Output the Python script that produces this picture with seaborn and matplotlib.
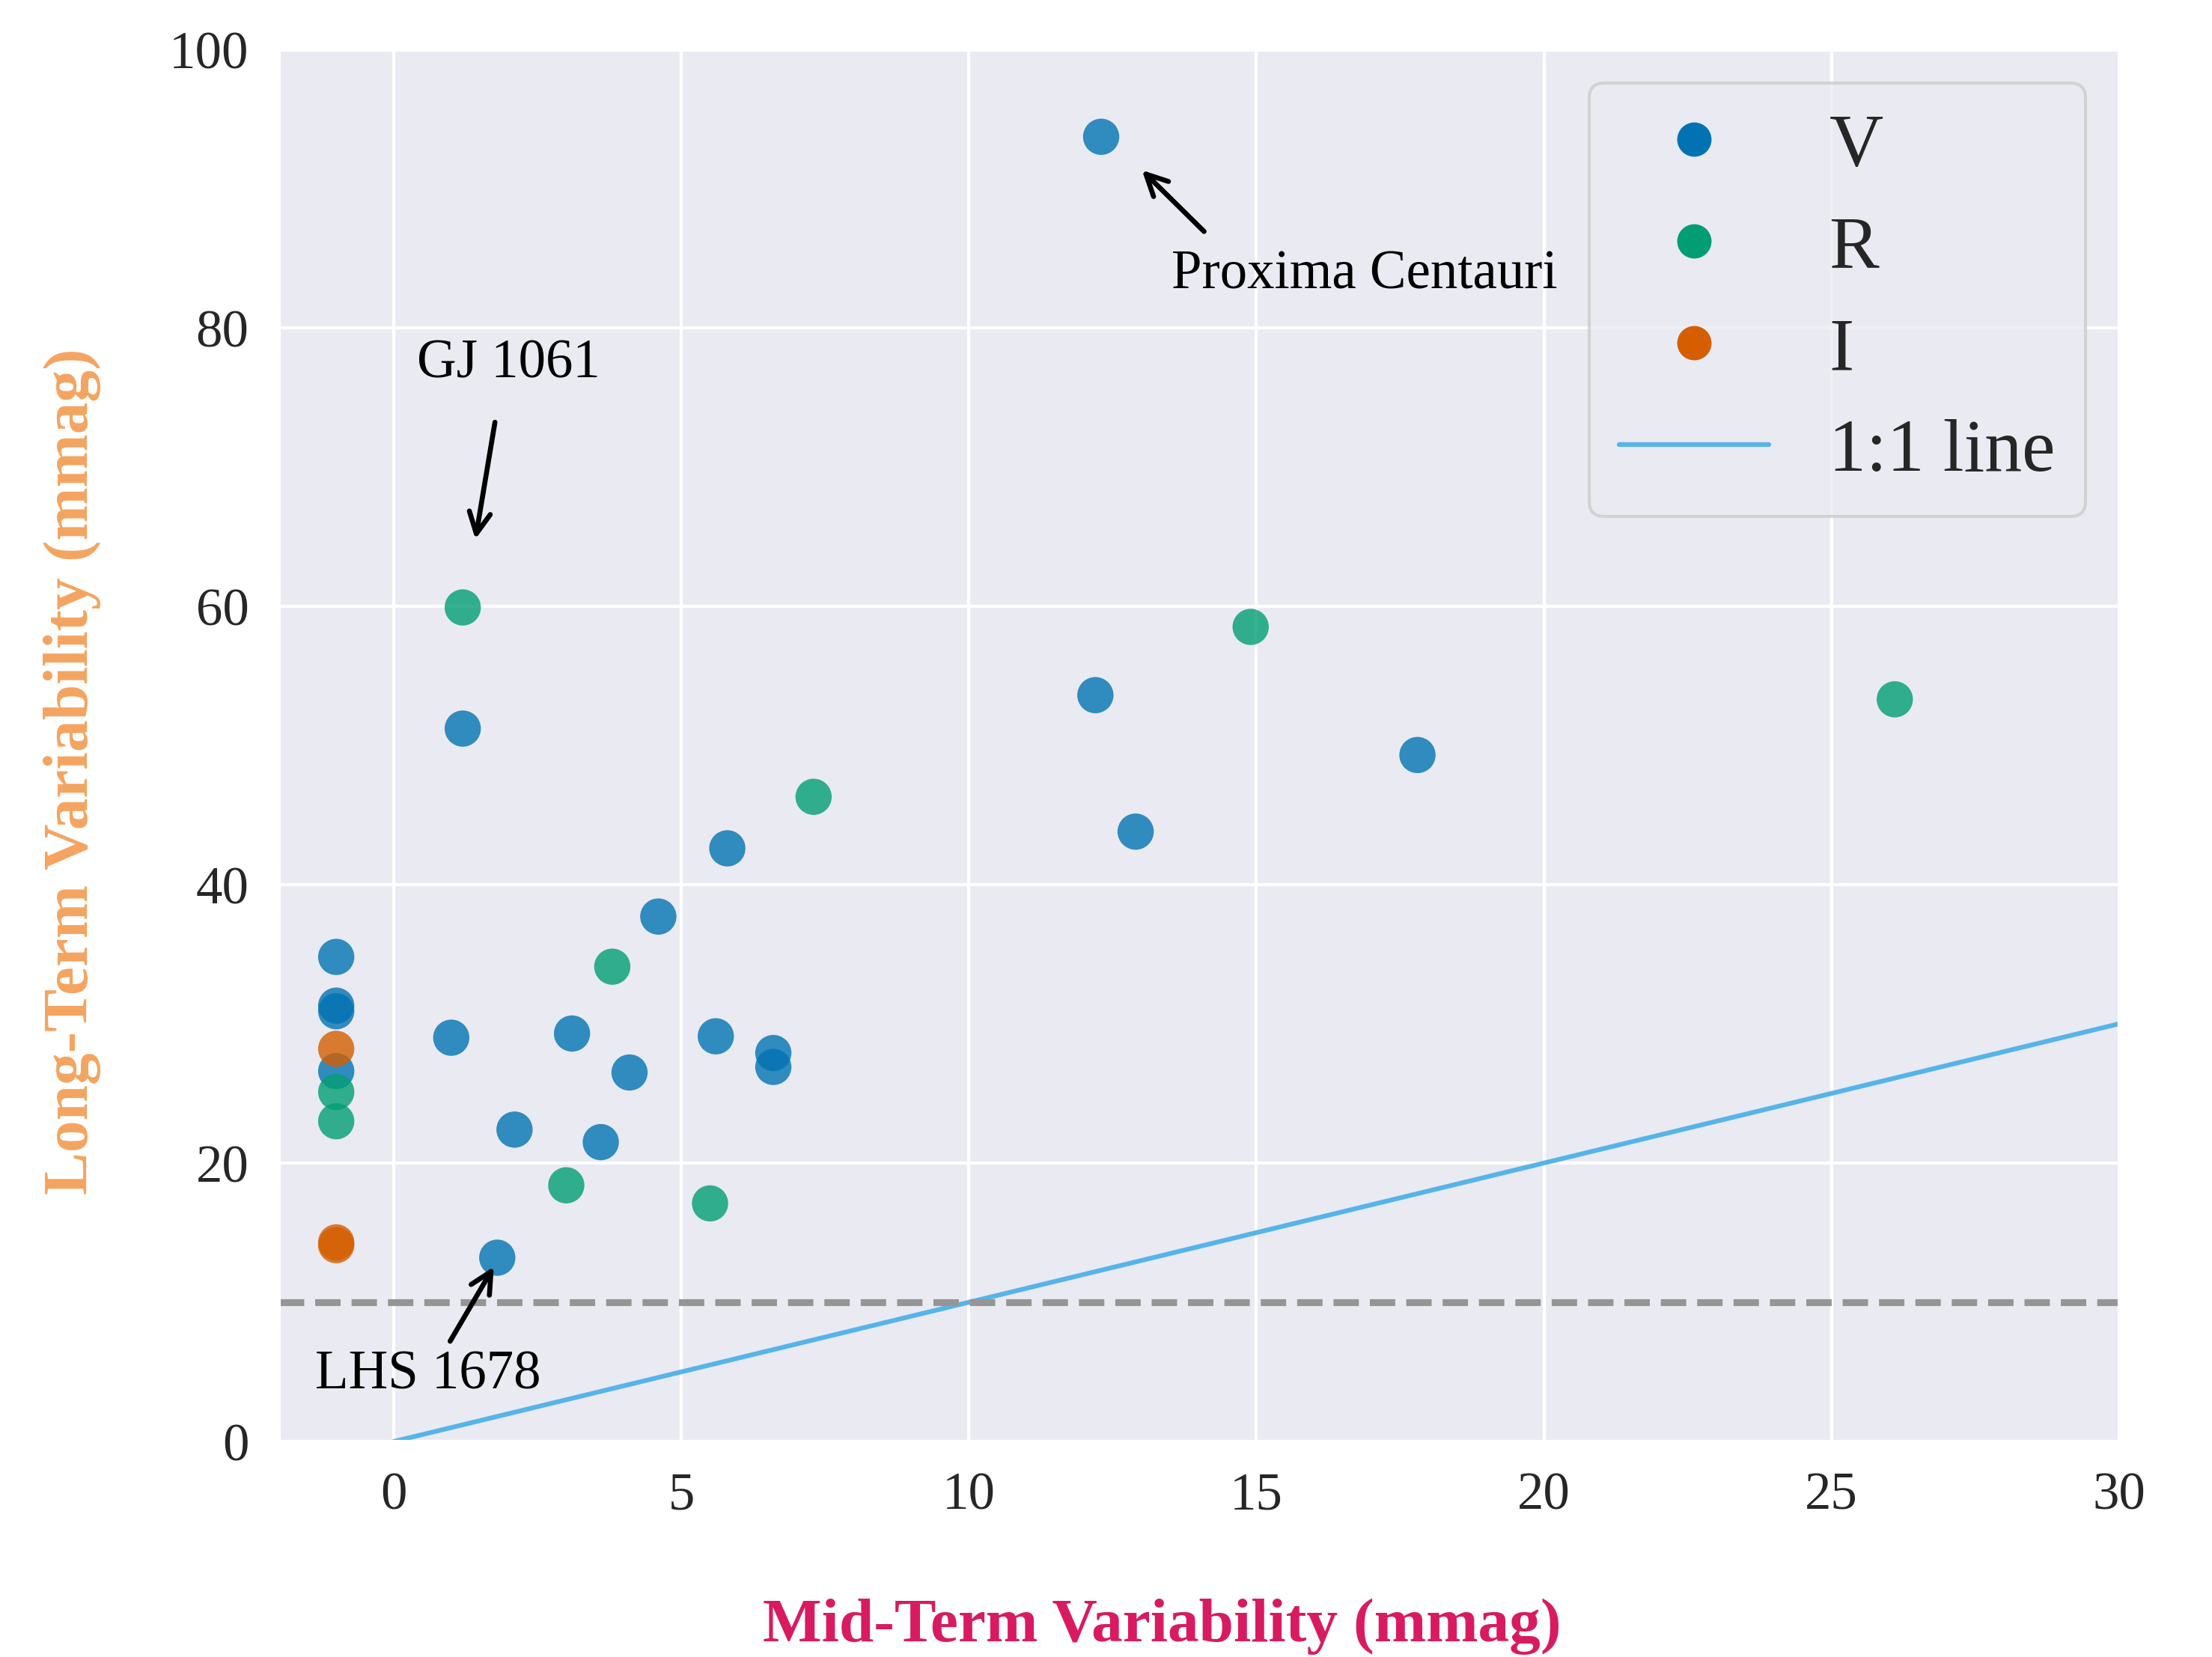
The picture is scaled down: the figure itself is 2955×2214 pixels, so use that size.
import numpy as np
import pandas as pd
import matplotlib
matplotlib.use("Agg")
import matplotlib.pyplot as plt
from matplotlib.lines import Line2D
import seaborn as sns


# -------------------------------------------------------------------------
# data (mmag)
# -------------------------------------------------------------------------

v_mid = [12.3, 12.2, 17.8, 12.9, 1.2, 5.8, 4.6, -1.0, -1.0, -1.0, -1.0,
         1.0, 3.1, 5.6, 6.6, 6.6, 4.1, 2.1, 3.6, 1.8]
v_long = [93.7, 53.6, 49.3, 43.8, 51.2, 42.6, 37.7, 34.8, 31.3, 30.9, 26.6,
          29.0, 29.3, 29.1, 27.9, 26.9, 26.5, 22.4, 21.5, 13.2]

r_mid = [1.2, 14.9, 26.1, 7.3, 3.8, -1.0, -1.0, 3.0, 5.5]
r_long = [59.9, 58.5, 53.3, 46.3, 34.1, 25.1, 23.0, 18.4, 17.1]

i_mid = [-1.0, -1.0, -1.0]
i_long = [28.2, 14.3, 14.1]

bands = ["V", "R", "I"]
band_colors = {"V": "#0173b2", "R": "#029e73", "I": "#d55e00"}

one_to_one_x = [0, 30]
one_to_one_y = [0, 30]
threshold = 10

x_ticks = [0, 5, 10, 15, 20, 25, 30]
y_ticks = [0, 20, 40, 60, 80, 100]

# star labels: text position, arrow tail, arrow tip
star_names = ["GJ 1061", "Proxima Centauri", "LHS 1678"]
star_text_xy = [(1.99, 77.4), (13.53, 83.8), (-1.37, 4.8)]
star_text_ha = ["center", "left", "left"]
star_arrow_tail = [(1.76, 73.2), (14.09, 86.9), (0.98, 7.2)]
star_arrow_tip = [(1.42, 64.8), (13.01, 91.3), (1.74, 12.55)]


# -------------------------------------------------------------------------
# build frame
# -------------------------------------------------------------------------

df = pd.concat([
    pd.DataFrame({"mid": v_mid, "long": v_long, "band": "V"}),
    pd.DataFrame({"mid": r_mid, "long": r_long, "band": "R"}),
    pd.DataFrame({"mid": i_mid, "long": i_long, "band": "I"}),
], ignore_index=True)


# -------------------------------------------------------------------------
# plot
# -------------------------------------------------------------------------

sns.set_theme(style="darkgrid", palette="colorblind")
plt.rcParams["font.family"] = ["Liberation Serif", "DejaVu Serif"]

fig, ax = plt.subplots(figsize=(9.85, 7.383), dpi=300)
fig.subplots_adjust(left=0.126, right=0.958, top=0.970, bottom=0.130)

sns.scatterplot(
    data=df, x="mid", y="long", hue="band", hue_order=bands,
    palette=band_colors, s=135, alpha=0.8, linewidth=0, ax=ax, legend=False,
)

ax.plot(one_to_one_x, one_to_one_y, color="#56b4e9", lw=1.5)
ax.axhline(threshold, color="#959595", lw=2.2, ls="--")

for name, txy, ha, tail, tip in zip(star_names, star_text_xy, star_text_ha,
                                    star_arrow_tail, star_arrow_tip):
    ax.annotate("", xy=tip, xytext=tail,
                arrowprops=dict(arrowstyle="->", color="black", lw=1.6,
                                shrinkA=0, shrinkB=0, mutation_scale=17))
    ax.text(txy[0], txy[1], name, ha=ha, va="center", fontsize=17.5,
            color="black")

ax.set_xlim(-2, 30)
ax.set_ylim(0, 100)
ax.set_xticks(x_ticks)
ax.set_yticks(y_ticks)
ax.tick_params(labelsize=17)

ax.set_xlabel("Mid-Term Variability (mmag)", fontsize=20, fontweight="bold",
              color="#d81b60", labelpad=25)
ax.set_ylabel("Long-Term Variability (mmag)", fontsize=20.5, fontweight="bold",
              color="sandybrown", labelpad=22)
ax.xaxis.label.set_x(0.48)
ax.yaxis.label.set_y(0.482)

handles = [Line2D([], [], marker="o", ls="", color=band_colors[b],
                  markersize=11, markeredgewidth=0) for b in bands]
handles.append(Line2D([], [], color="#56b4e9", lw=1.5))
ax.legend(handles, bands + ["1:1 line"], loc="upper right", fontsize=24,
          labelspacing=0.45, borderpad=0.4, handletextpad=0.8,
          borderaxespad=0.45, frameon=True, framealpha=0.8)

fig.savefig("out.png", dpi=300)
